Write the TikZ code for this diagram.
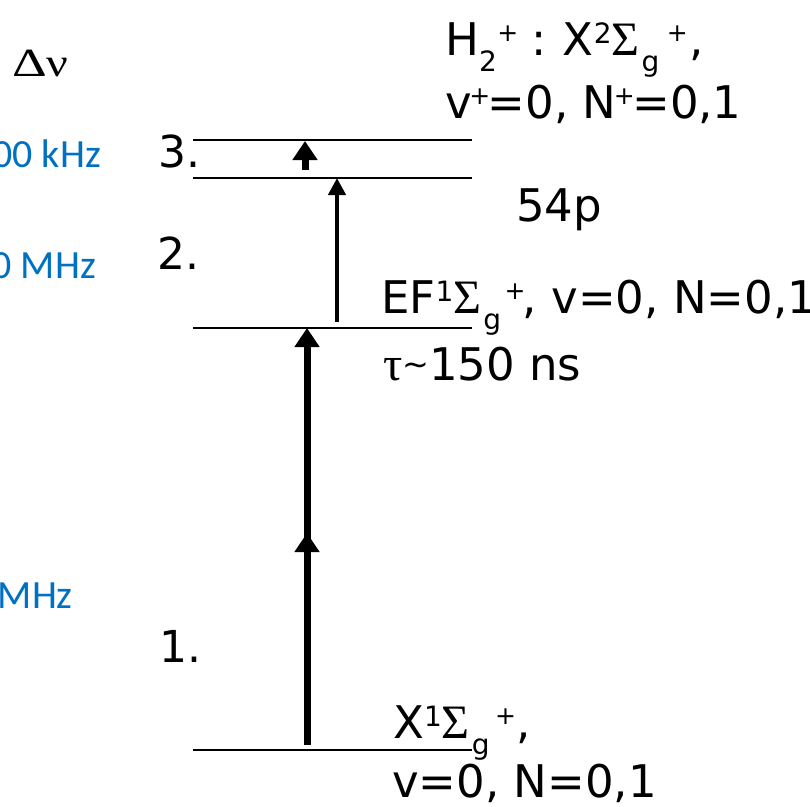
\documentclass[tikz,border=0pt]{standalone}
\usepackage{fontspec}
\setmainfont{DejaVu Sans}
\newfontfamily\grk{Liberation Serif}
\newfontfamily\blu{Carlito}
\usetikzlibrary{arrows.meta}
\definecolor{lblue}{HTML}{0070C0}
\newcommand\fs[1]{\fontsize{#1}{#1}\selectfont}
\newcommand\hi[1]{\raisebox{12pt}{\fs{28}#1}}
\newcommand\hp{\hspace{-2.5pt}\raisebox{14pt}{\fs{25}+}\hspace{-2.5pt}}
\newcommand\lo[1]{\raisebox{-16pt}{\fs{28}#1}}
\newcommand\Sg{{\grk\fs{48}Σ}}
\begin{document}
\begin{tikzpicture}[x=1pt,y=-1pt,
  lev/.style={line width=2.2pt},
  lbl/.style={anchor=base west,inner sep=0pt,font=\fs{45}},
  num/.style={anchor=base west,inner sep=0pt,font=\fs{44}},
  freq/.style={anchor=base east,inner sep=0pt,font=\blu\fs{40},text=lblue},
  excA/.style={line width=7pt,-{Triangle[width=24pt,length=19pt]}},
  excB/.style={line width=4.5pt,-{Triangle[width=17pt,length=17pt]}},
]
\useasboundingbox (0,0) rectangle (810,806);
% level lines
\coordinate (i0) at (193,140); \coordinate (i1) at (472,140);
\coordinate (r0) at (193,178); \coordinate (r1) at (472,178);
\coordinate (e0) at (193,328); \coordinate (e1) at (472,328);
\coordinate (x0) at (193,750); \coordinate (x1) at (472,750);
\draw[lev] (i0) -- (i1);
\draw[lev] (r0) -- (r1);
\draw[lev] (e0) -- (e1);
\draw[lev] (x0) -- (x1);
% arrows
\coordinate (a1s) at (307,745);
\coordinate (a1m) at (307,533);
\coordinate (a1n) at (307,545);
\coordinate (a1t) at (307,328);
\draw[excA] (a1s) -- (a1m);
\draw[excA] (a1n) -- (a1t);
\coordinate (a2s) at (337,322);
\coordinate (a2t) at (337,178);
\draw[excB] (a2s) -- (a2t);
\coordinate (a3s) at (305,170);
\coordinate (a3t) at (305,141);
\draw[excA] (a3s) -- (a3t);
% labels
\node (dnu) [anchor=base west,inner sep=0pt] at (12,76) {\grk\fs{40}\scalebox{1.35}[1]{Δ}\scalebox{1.2}[1]{ν}};
\node (f3) [freq] at (101,167) {00 kHz};
\node (f2) [freq] at (96,278) {0 MHz};
\node (f1) [freq] at (73,608) {MHz};
\node (n3) [num] at (158,167) {3.};
\node (n2) [num] at (157,269) {2.};
\node (n1) [num] at (159,662) {1.};
\node (ion) [lbl] at (445,55) {H\lo{2}\hspace{3pt}\hp\hspace{16pt}:\hspace{16pt}X\hi{2}\Sg\hspace{2pt}\lo{g}\hspace{10pt}\hp\hspace{4pt},};
\node (ionq) [lbl] at (445,118) {v\hp=0, N\hp=0,1};
\node (ryd) [lbl] at (516,221) {54p};
\node (ef) [lbl] at (381,313) {EF\hi{1}\Sg\hspace{2pt}\lo{g}\hspace{6pt}\hp, v=0, N=0,1};
\node (tau) [lbl] at (383,380) {{\grk\fs{48}τ}\raisebox{5pt}{\fs{32}\textasciitilde}150 ns};
\node (gs) [lbl] at (393,738) {X\hi{1}\Sg\hspace{2pt}\lo{g}\hspace{8pt}\hp\hspace{3pt},};
\node (gsq) [lbl] at (392,797) {v=0, N=0,1};
\end{tikzpicture}
\end{document}
